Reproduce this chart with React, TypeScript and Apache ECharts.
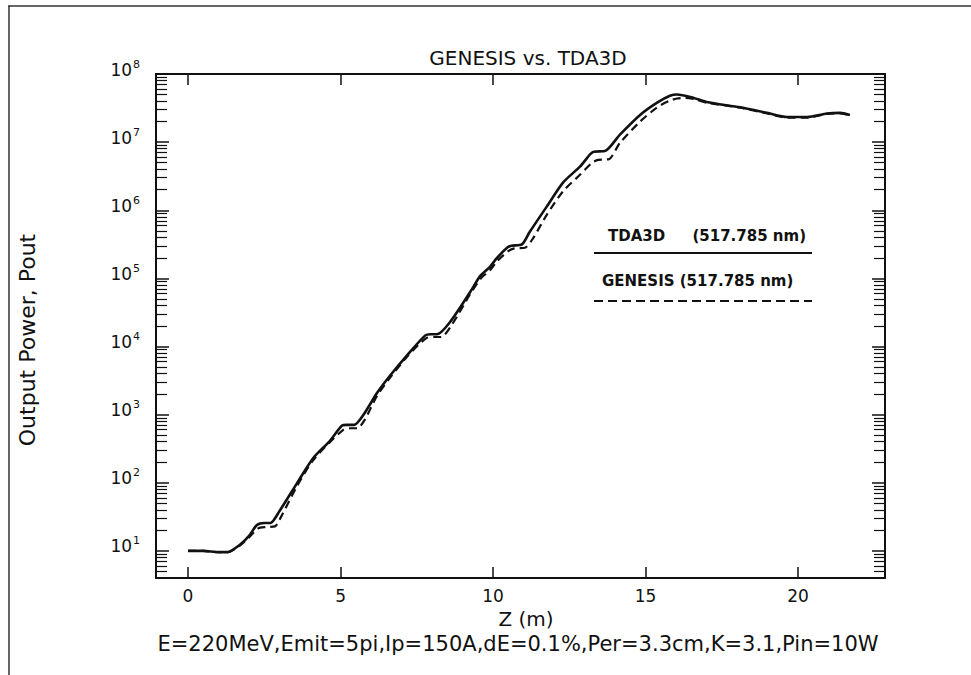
import React, { useEffect, useRef } from "react";
import * as echarts from "echarts";

// TDA3D (solid)
const zTda = [0, 0.5, 1.0, 1.3, 1.7, 2.0, 2.26, 2.5, 2.7, 3.0, 3.57, 4.1, 4.66, 5.05, 5.2, 5.45, 5.74, 6.2, 6.62, 7.18, 7.77, 7.95, 8.16, 8.59, 9.25, 9.57, 9.9, 10.13, 10.46, 10.6, 10.95, 11.2, 11.77, 12.3, 12.85, 13.18, 13.3, 13.67, 14.16, 14.82, 15.38, 15.8, 16.03, 16.5, 17.0, 18.1, 18.98, 19.64, 20.3, 20.95, 21.38, 21.7];
const pTda = [10, 10, 9.6, 9.6, 12.3, 16.6, 24, 25.7, 25.7, 38.5, 98, 229, 417, 692, 708, 708, 977, 2090, 3720, 7410, 14450, 15100, 15100, 22900, 63100, 107000, 148000, 200000, 282000, 302000, 316000, 479000, 1.15e6, 2.57e6, 4.37e6, 6.61e6, 7.24e6, 7.41e6, 1.29e7, 2.51e7, 3.8e7, 4.79e7, 5.01e7, 4.57e7, 3.89e7, 3.24e7, 2.69e7, 2.34e7, 2.34e7, 2.63e7, 2.69e7, 2.51e7];

// GENESIS (dashed)
const zGen = [0, 0.5, 1.0, 1.3, 1.7, 2.0, 2.3, 2.55, 2.85, 3.05, 3.57, 4.1, 4.66, 5.1, 5.3, 5.55, 5.8, 6.2, 6.62, 7.18, 7.8, 8.05, 8.3, 8.65, 9.25, 9.6, 9.9, 10.15, 10.5, 10.7, 11.05, 11.3, 11.77, 12.3, 12.85, 13.25, 13.45, 13.8, 14.16, 14.82, 15.38, 15.8, 16.03, 16.3, 16.6, 17.0, 18.1, 18.98, 19.64, 20.3, 20.95, 21.38, 21.7];
const pGen = [10, 10, 9.6, 9.6, 12.0, 15.8, 21.4, 22.4, 22.9, 31.6, 89, 214, 398, 603, 631, 631, 851, 1905, 3467, 7080, 13200, 13800, 13800, 20900, 58900, 100000, 132000, 182000, 251000, 275000, 282000, 380000, 871000, 1.91e6, 3.31e6, 5.01e6, 5.5e6, 5.62e6, 9.77e6, 2.0e7, 3.24e7, 4.07e7, 4.37e7, 4.47e7, 4.27e7, 3.8e7, 3.2e7, 2.63e7, 2.29e7, 2.29e7, 2.6e7, 2.65e7, 2.5e7];

const xTickLabels = [0, 5, 10, 15, 20];
const titleText = "GENESIS vs. TDA3D";
const xName = "Z (m)";
const yName = "Output Power, Pout";
const footer = "E=220MeV,Emit=5pi,Ip=150A,dE=0.1%,Per=3.3cm,K=3.1,Pin=10W";
const legendNames = ["TDA3D", "GENESIS"];
const legendWave = "(517.785 nm)";

const FONT = "DejaVu Sans";
const INK = "#111";

export default function App() {
  const ref = useRef<HTMLDivElement>(null);
  useEffect(() => {
    if (!ref.current) return;
    const chart = echarts.init(ref.current, null, { renderer: "svg" });
    const yFmt = (v: number) => {
      const e = Math.round(Math.log10(v));
      if (Math.abs(v - Math.pow(10, e)) / v > 1e-6) return "";
      return `{b|10}{s|${e}}`;
    };
    const xFmt = (v: number) => (xTickLabels.indexOf(Math.round(v * 1000) / 1000) >= 0 ? String(v) : "");
    const axisLine = { show: true, onZero: false, lineStyle: { color: INK, width: 2 } };
    const yAxisCommon = {
      type: "log" as const,
      logBase: 10,
      min: 4,
      max: 1e8,
      axisLine,
      axisTick: { show: true, inside: true, length: 13, lineStyle: { color: INK, width: 1.5 } },
      minorTick: { show: true, splitNumber: 9, length: 11, lineStyle: { color: INK, width: 1.2 } },
      splitLine: { show: false },
      minorSplitLine: { show: false },
    };
    const xAxisCommon = {
      type: "value" as const,
      min: -1.05,
      max: 22.85,
      axisLine,
      axisTick: { show: true, inside: true, length: 11, lineStyle: { color: INK, width: 1.5 } },
      splitLine: { show: false },
    };
    chart.setOption({
      animation: false,
      backgroundColor: "#fff",
      grid: { left: 156, right: 86, top: 74, bottom: 97, containLabel: false, outerBoundsMode: "none" },
      xAxis: [
        {
          ...xAxisCommon,
          position: "bottom",
          axisLabel: {
            show: true,
            formatter: xFmt,
            color: INK,
            fontFamily: FONT,
            fontSize: 17,
            margin: 9,
            showMinLabel: true,
            showMaxLabel: true,
          },
        },
        { ...xAxisCommon, position: "top", axisLabel: { show: false } },
      ],
      yAxis: [
        {
          ...yAxisCommon,
          position: "left",
          axisLabel: {
            show: true,
            formatter: yFmt,
            margin: 16,
            padding: [0, 0, 9, 0],
            rich: {
              b: { fontFamily: FONT, fontSize: 17, color: INK, lineHeight: 22 },
              s: { fontFamily: FONT, fontSize: 11, color: INK, verticalAlign: "top", padding: [0, 0, 0, 1] },
            },
          },
        },
        { ...yAxisCommon, position: "right", axisLabel: { show: false } },
      ],
      series: [
        {
          name: legendNames[0],
          type: "line",
          xAxisIndex: 0,
          yAxisIndex: 0,
          data: zTda.map((z, i) => [z, pTda[i]]),
          showSymbol: false,
          smooth: 0.25,
          lineStyle: { color: INK, width: 2.6 },
          silent: true,
        },
        {
          name: legendNames[1],
          type: "line",
          xAxisIndex: 0,
          yAxisIndex: 0,
          data: zGen.map((z, i) => [z, pGen[i]]),
          showSymbol: false,
          smooth: 0.25,
          lineStyle: { color: INK, width: 2.2, type: [8, 5] },
          silent: true,
        },
      ],
      graphic: [
        { type: "line", shape: { x1: 8, y1: 6, x2: 971, y2: 6 }, style: { stroke: "#333", lineWidth: 1.5 } },
        { type: "line", shape: { x1: 9, y1: 6, x2: 9, y2: 675 }, style: { stroke: "#333", lineWidth: 1.5 } },
        {
          type: "text",
          x: 528,
          y: 58,
          style: { text: titleText, font: `20px '${FONT}'`, fill: INK, textAlign: "center", textVerticalAlign: "middle" },
        },
        {
          type: "text",
          x: 526,
          y: 619,
          style: { text: xName, font: `20px '${FONT}'`, fill: INK, textAlign: "center", textVerticalAlign: "middle" },
        },
        {
          type: "text",
          x: 518,
          y: 644,
          style: { text: footer, font: `21px '${FONT}'`, fill: INK, textAlign: "center", textVerticalAlign: "middle" },
        },
        {
          type: "text",
          x: 27,
          y: 340,
          rotation: Math.PI / 2,
          style: { text: yName, font: `22px '${FONT}'`, fill: INK, textAlign: "center", textVerticalAlign: "middle" },
        },
        {
          type: "text",
          x: 608,
          y: 236,
          style: { text: legendNames[0], font: `bold 15px '${FONT}'`, fill: INK, textAlign: "left", textVerticalAlign: "middle" },
        },
        {
          type: "text",
          x: 806,
          y: 236,
          style: { text: legendWave, font: `bold 15px '${FONT}'`, fill: INK, textAlign: "right", textVerticalAlign: "middle" },
        },
        { type: "line", shape: { x1: 594, y1: 253, x2: 812, y2: 253 }, style: { stroke: INK, lineWidth: 2 } },
        {
          type: "text",
          x: 602,
          y: 281,
          style: { text: `${legendNames[1]} ${legendWave}`, font: `bold 15px '${FONT}'`, fill: INK, textAlign: "left", textVerticalAlign: "middle" },
        },
        {
          type: "line",
          shape: { x1: 594, y1: 301, x2: 812, y2: 301 },
          style: { stroke: INK, lineWidth: 2, lineDash: [9, 5] },
        },
      ],
    });
    return () => chart.dispose();
  }, []);
  return <div ref={ref} style={{ position: "fixed", left: 0, top: 0, width: 971, height: 675, background: "#fff" }} />;
}
